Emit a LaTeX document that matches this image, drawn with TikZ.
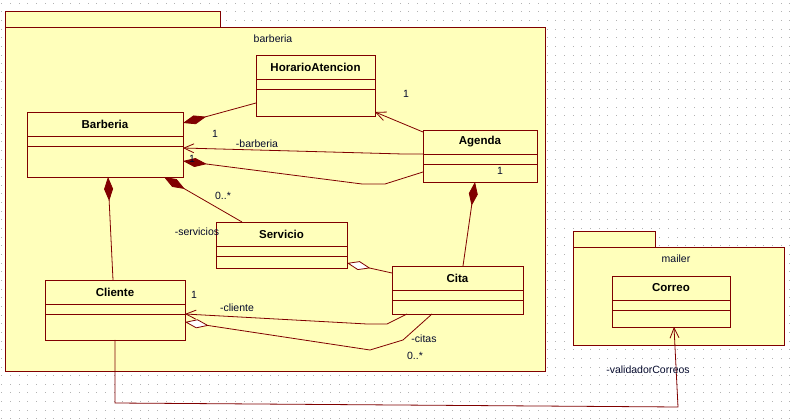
\documentclass[tikz,border=0pt]{standalone}
\usepackage{fontspec}
\setmainfont{Liberation Sans}
\usepackage{tikz}
\usetikzlibrary{arrows, arrows.meta}
\usetikzlibrary{calc}
\definecolor{umlred}{RGB}{128,0,0}
\definecolor{umlfill}{RGB}{255,255,187}
\definecolor{umltext}{RGB}{5,10,45}
\tikzstyle{assoc}=[draw=umlred, line width=0.8pt]
\tikzstyle{navarrow}=[assoc, -{Straight Barb[length=10pt, width=9pt, line width=0.8pt]}]
\tikzstyle{comp}=[assoc, -{Diamond[length=24pt, width=9pt]}]
\tikzstyle{aggr}=[assoc, -{Diamond[length=24pt, width=9pt, fill=white]}]
\tikzstyle{pkg}=[draw=umlred, fill=umlfill, line width=0.8pt]
\tikzstyle{role}=[text=umltext, inner sep=0pt, font=\fontsize{10.5}{12}\selectfont]
\tikzset{
    umlclass/.style n args={3}{
         draw=umlred, fill=umlfill, line width=0.8pt,
         inner sep=0pt, outer sep=0pt,
         minimum width=#1, minimum height=#2,
         path picture={
             \draw[umlred, line width=0.8pt]
               ($(path picture bounding box.north west)+(0,24)$) -- ($(path picture bounding box.north east)+(0,24)$)
               ($(path picture bounding box.north west)+(0,34)$) -- ($(path picture bounding box.north east)+(0,34)$);
         },
         label={[anchor=center, yshift=-12pt, text=black, font=\bfseries\fontsize{11.5}{12}\selectfont]north:#3}
    }
}

\begin{document}
\begin{tikzpicture}[x=1pt, y=-1pt]
  \useasboundingbox (0,0) rectangle (796,419);
  \fill[white] (0,0) rectangle (796,419);
  % dotted grid of the editor
  \foreach \gx in {0,...,91}
    \foreach \gy in {0,...,48}
      \fill[black!30] (\gx*8.66+1.2, \gy*8.66+2.8) rectangle +(1,1);

  % packages
  \draw[pkg] (5,11) rectangle (220,27);
  \draw[pkg] (5,27) rectangle (545,371);
  \node[role] (barberiapkg) at (273,39) {barberia};
  \draw[pkg] (573,231) rectangle (655,247);
  \draw[pkg] (573,247) rectangle (784,345);
  \node[role] (mailerpkg) at (676,259) {mailer};

  % classes
  \node (horario)[umlclass={119}{61}{HorarioAtencion}] at (315.5,85.5) {};
  \node (barberia)[umlclass={156}{65}{Barberia}] at (105,144.5) {};
  \node (agenda)[umlclass={114}{52}{Agenda}] at (480,156) {};
  \node (servicio)[umlclass={131}{46}{Servicio}] at (281.5,245) {};
  \node (cliente)[umlclass={140}{60}{Cliente}] at (115,310) {};
  \node (cita)[umlclass={131}{48}{Cita}] at (457.5,290) {};
  \node (correo)[umlclass={118}{51}{Correo}] at (671,301.5) {};

  % connectors
  \draw[comp] ($(horario.north west)+(0,48)$) -- ($(barberia.north east)+(0,11)$);
  \draw[navarrow] ($(agenda.north west)+(0,2)$) -- ($(horario.south east)+(0,-4)$);
  \draw[navarrow] ($(agenda.north west)+(0,24)$) -- (403,154) -- ($(barberia.north east)+(0,36)$);
  \draw[comp] ($(agenda.north west)+(0,42)$) -- (385,184) -- (362,184) -- ($(barberia.north east)+(0,49)$);
  \draw[comp] ($(servicio.north west)+(26,0)$) -- ($(barberia.south west)+(137,0)$);
  \draw[comp] ($(cliente.north west)+(68,0)$) -- ($(barberia.south west)+(81,0)$);
  \draw[comp] ($(cita.north west)+(71,0)$) -- ($(agenda.south west)+(52,0)$);
  \draw[aggr] ($(cita.north west)+(0,7)$) -- ($(servicio.south east)+(0,-5)$);
  \draw[navarrow] ($(cita.south west)+(15,0)$) -- (387,324) -- (367,324) -- ($(cliente.north east)+(0,34)$);
  \draw[aggr] ($(cita.south west)+(40,0)$) -- (403,340) -- (370,350) -- ($(cliente.north east)+(0,42)$);
  \draw[navarrow] (cliente.south) -- (115,403) -- (678,407) -- ($(correo.south west)+(62,0)$);

  % roles and multiplicities
  \node[role] (m1) at (406,94) {1};
  \node[role] (r1) at (257,144) {-barberia};
  \node[role] (m2) at (215,134) {1};
  \node[role] (m3) at (192,159) {1};
  \node[role] (m4) at (500,171) {1};
  \node[role] (m5) at (223,196) {0..*};
  \node[role] (r2) at (197,232) {-servicios};
  \node[role] (r3) at (237,308) {-cliente};
  \node[role] (m6) at (194,295) {1};
  \node[role] (r4) at (424,339) {-citas};
  \node[role] (m7) at (415,356) {0..*};
  \node[role] (r5) at (648,370) {-validadorCorreos};
\end{tikzpicture}
\end{document}
